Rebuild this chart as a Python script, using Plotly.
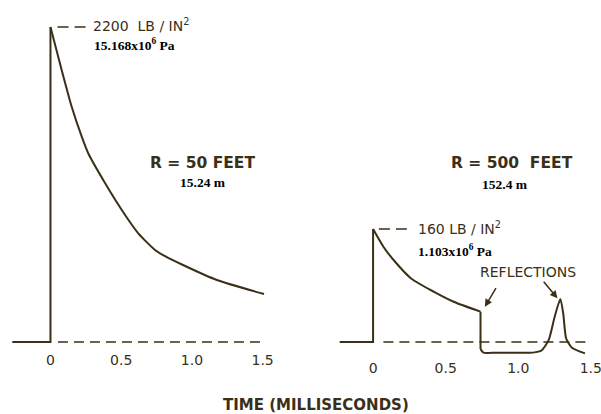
import plotly.graph_objects as go

# Pressure-time histories of a blast wave at two ranges (pressure in lb/in^2, time in ms)
ink = "#3a2f17"

# R = 50 ft
near_rise_t = [-0.27, 0.0, 0.0]
near_rise_p = [0, 0, 2200]
near_decay_t = [0.0, 0.079, 0.150, 0.221, 0.267, 0.373, 0.504, 0.621, 0.739, 0.81, 0.937, 1.177, 1.51]
near_decay_p = [2200, 1900, 1643, 1434, 1318, 1131, 922, 759, 643, 600, 538, 433, 335]
near_peak = 2200

# R = 500 ft
far_rise_t = [-0.23, 0.0, 0.0]
far_rise_p = [0, 0, 160]
far_decay_t = [0.0, 0.071, 0.150, 0.262, 0.420, 0.555, 0.74]
far_decay_p = [160, 135, 114, 90, 71, 57, 43]
far_drop_t = [0.74, 0.74]
far_drop_p = [43, -10]
far_tail_t = [0.74, 0.76, 0.85, 1.10, 1.16, 1.21, 1.25, 1.29, 1.31, 1.33, 1.37, 1.46]
far_tail_p = [-10, -15, -15, -15, -12, 3, 35, 61, 40, 5, -8, -16]
far_peak = 160

tick_vals = [0, 0.5, 1.0, 1.5]
tick_text = ["0", "0.5", "1.0", "1.5"]

W, H = 601, 414

fig = go.Figure()

line = dict(color=ink, width=2)
dash = dict(color=ink, width=1.6, dash="10px,6px")
leader = dict(color=ink, width=1.6, dash="11px,6px")

# left panel
fig.add_trace(go.Scatter(x=near_rise_t, y=near_rise_p, mode="lines", line=line,
                         xaxis="x", yaxis="y"))
fig.add_trace(go.Scatter(x=near_decay_t, y=near_decay_p, mode="lines",
                         line=dict(line, shape="spline", smoothing=0.6), xaxis="x", yaxis="y"))
fig.add_trace(go.Scatter(x=[0.053, 1.496], y=[0, 0], mode="lines", line=dash,
                         xaxis="x", yaxis="y"))
fig.add_trace(go.Scatter(x=[0.05, 0.27], y=[near_peak, near_peak], mode="lines",
                         line=leader, xaxis="x", yaxis="y"))

# right panel
fig.add_trace(go.Scatter(x=far_rise_t, y=far_rise_p, mode="lines", line=line,
                         xaxis="x2", yaxis="y2"))
fig.add_trace(go.Scatter(x=far_decay_t, y=far_decay_p, mode="lines",
                         line=dict(line, shape="spline", smoothing=0.6), xaxis="x2", yaxis="y2"))
fig.add_trace(go.Scatter(x=far_drop_t, y=far_drop_p, mode="lines", line=line,
                         xaxis="x2", yaxis="y2"))
fig.add_trace(go.Scatter(x=far_tail_t, y=far_tail_p, mode="lines",
                         line=dict(line, shape="spline", smoothing=0.6), xaxis="x2", yaxis="y2"))
fig.add_trace(go.Scatter(x=[0.071, 1.476], y=[0, 0], mode="lines", line=dash,
                         xaxis="x2", yaxis="y2"))
fig.add_trace(go.Scatter(x=[0.04, 0.26], y=[far_peak, far_peak], mode="lines",
                         line=leader, xaxis="x2", yaxis="y2"))

tick_font = dict(family="DejaVu Sans", size=14, color=ink)
axis_common = dict(showgrid=False, zeroline=False, showline=False, ticks="",
                   tickvals=tick_vals, ticktext=tick_text, tickfont=tick_font,
                   anchor="free", ticklabeloverflow="allow", automargin=False)

letter = dict(family="DejaVu Sans", color=ink)
serif = dict(family="Liberation Serif", color="black")


def px(xp, yp):
    return dict(xref="paper", yref="paper", x=xp / W, y=1 - yp / H)


annotations = [
    dict(text="2200  LB / IN<sup>2</sup>", font=dict(letter, size=14), xanchor="left",
         yanchor="middle", showarrow=False, **px(91, 25)),
    dict(text="<b>15.168x10<sup>6</sup> Pa</b>", font=dict(serif, size=13.5), xanchor="left",
         yanchor="middle", showarrow=False, **px(92, 44)),
    dict(text="<b>R = 50 FEET</b>", font=dict(letter, size=15.5), xanchor="center",
         yanchor="middle", showarrow=False, **px(202, 163)),
    dict(text="<b>15.24 m</b>", font=dict(serif, size=13.5), xanchor="center",
         yanchor="middle", showarrow=False, **px(203, 183)),
    dict(text="<b>R = 500  FEET</b>", font=dict(letter, size=15.5), xanchor="center",
         yanchor="middle", showarrow=False, **px(512, 163)),
    dict(text="<b>152.4 m</b>", font=dict(serif, size=13.5), xanchor="center",
         yanchor="middle", showarrow=False, **px(505, 184)),
    dict(text="160 LB / IN<sup>2</sup>", font=dict(letter, size=14), xanchor="left",
         yanchor="middle", showarrow=False, **px(416, 228)),
    dict(text="<b>1.103x10<sup>6</sup> Pa</b>", font=dict(serif, size=13.5), xanchor="left",
         yanchor="middle", showarrow=False, **px(416, 250)),
    dict(text="REFLECTIONS", font=dict(letter, size=14), xanchor="center",
         yanchor="middle", showarrow=False, **px(528, 272)),
    dict(text="<b>TIME (MILLISECONDS)</b>", font=dict(letter, size=15), xanchor="center",
         yanchor="middle", showarrow=False, **px(316, 405)),
    # arrows pointing at the two reflected pulses
    dict(xref="x2", yref="y2", x=0.77, y=50, ax=500 - 488, ay=285 - 305,
         showarrow=True, arrowhead=2, arrowsize=1, arrowwidth=1.5, arrowcolor=ink, text=""),
    dict(xref="x2", yref="y2", x=1.27, y=62, ax=547 - 562, ay=284 - 302,
         showarrow=True, arrowhead=2, arrowsize=1, arrowwidth=1.5, arrowcolor=ink, text=""),
]

fig.update_layout(
    width=W, height=H, margin=dict(l=0, r=0, t=0, b=0, autoexpand=False),
    paper_bgcolor="white", plot_bgcolor="white", showlegend=False,
    xaxis=dict(axis_common, domain=[0, 0.5], range=[-0.357, 1.768],
               position=1 - 350 / H),
    yaxis=dict(domain=[0, 1], range=[-502.8, 2388.6], visible=False),
    xaxis2=dict(axis_common, domain=[0.5, 1], range=[-0.5, 1.57],
                position=1 - 358 / H),
    yaxis2=dict(domain=[0, 1], range=[-101.9, 484.3], visible=False),
    annotations=annotations,
)

fig.write_html("out.html")
